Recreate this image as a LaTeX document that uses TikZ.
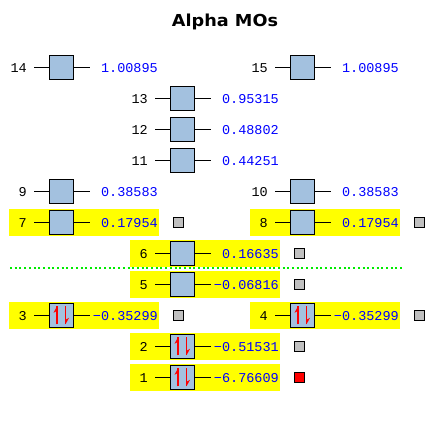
\documentclass[tikz,border=0pt]{standalone}
\usepackage{fontspec}
\setmainfont{Liberation Sans}
\newfontfamily\monofont{Liberation Mono}
\newfontfamily\titlefont{DejaVu Sans}
\definecolor{boxblue}{RGB}{163,193,223}
\definecolor{hlyellow}{RGB}{255,255,0}
\definecolor{dotgreen}{RGB}{0,235,0}
\definecolor{sqgray}{RGB}{192,192,192}
\definecolor{enblue}{RGB}{0,0,255}
\newcommand\MOlevel[5]{% name, x, y, label, energy
  \node[orb] (#1) at (#2,#3) {};
  \draw[lvlline] (#1.west) -- ++(-15,0) coordinate (#1l);
  \draw[lvlline] (#1.east) -- ++(16.5,0) coordinate (#1r);
  \node[idx] (#1n) at (#2-34,#3+4.7) {#4};
  \node[en] (#1e) at (#2+97,#3+4.7) {#5};
}
\newcommand\HLrow[2]{\fill[hlyellow] (#1-52.5,#2-13.3) rectangle (#1+97.5,#2+13.3);}
\newcommand\SpinPair[2]{%
  \draw[spin] (#1-4,#2+9) -- (#1-4,#2-9);
  \fill[red] (#1-4,#2-9) -- (#1-7.5,#2-2.5) -- (#1-4,#2-4.5) -- cycle;
  \draw[spin] (#1+4.5,#2-9) -- (#1+4.5,#2+9);
  \fill[red] (#1+4.5,#2+9) -- (#1+8,#2+2.5) -- (#1+4.5,#2+4.5) -- cycle;
}
\begin{document}
\begin{tikzpicture}[x=1pt,y=-1pt,
  orb/.style={draw=black, line width=1pt, fill=boxblue, minimum size=24pt, inner sep=0pt},
  lvlline/.style={line width=1pt},
  idx/.style={font=\monofont\fontsize{13.5}{14}\selectfont, anchor=base east, inner sep=0pt},
  en/.style={font=\monofont\fontsize{13.5}{14}\selectfont, text=enblue, anchor=base east, inner sep=0pt},
  occsq/.style={draw=black, line width=1pt, fill=sqgray, minimum size=10pt, inner sep=0pt},
  homosq/.style={occsq, fill=red},
  spin/.style={red, line width=1.2pt},
  gapline/.style={dotgreen, line width=2pt, dash pattern=on 2pt off 2.7pt}]
\useasboundingbox (0,0) rectangle (442,431);
\fill[white] (0,0) rectangle (442,431);
% highlighted rows
\HLrow{61}{222.3}
\HLrow{302}{222.3}
\HLrow{182}{253.3}
\HLrow{182}{284.3}
\HLrow{61}{315.3}
\HLrow{302}{315.3}
\HLrow{182}{346.3}
\HLrow{182}{377.3}
% title
\node[font=\titlefont\bfseries\fontsize{16.5}{18}\selectfont, anchor=base, xscale=1.07, inner sep=0pt] (title) at (225,26.7) {Alpha MOs};
% gap line
\coordinate (gapL) at (10,268);
\coordinate (gapR) at (404,268);
\draw[gapline] (gapL) -- (gapR);
% levels
\MOlevel{m14}{61}{67.3}{14}{1.00895}
\MOlevel{m15}{302}{67.3}{15}{1.00895}
\MOlevel{m13}{182}{98.3}{13}{0.95315}
\MOlevel{m12}{182}{129.3}{12}{0.48802}
\MOlevel{m11}{182}{160.3}{11}{0.44251}
\MOlevel{m9}{61}{191.3}{9}{0.38583}
\MOlevel{m10}{302}{191.3}{10}{0.38583}
\MOlevel{m7}{61}{222.3}{7}{0.17954}
\MOlevel{m8}{302}{222.3}{8}{0.17954}
\MOlevel{m6}{182}{253.3}{6}{0.16635}
\MOlevel{m5}{182}{284.3}{5}{−0.06816}
\MOlevel{m3}{61}{315.3}{3}{−0.35299}
\MOlevel{m4}{302}{315.3}{4}{−0.35299}
\MOlevel{m2}{182}{346.3}{2}{−0.51531}
\MOlevel{m1}{182}{377.3}{1}{−6.76609}
% electrons
\SpinPair{61}{315.3}
\SpinPair{302}{315.3}
\SpinPair{182}{346.3}
\SpinPair{182}{377.3}
% small squares
\node[occsq] (s7) at (178,222.3) {};
\node[occsq] (s8) at (419,222.3) {};
\node[occsq] (s6) at (299,253.3) {};
\node[occsq] (s5) at (299,284.3) {};
\node[occsq] (s3) at (178,315.3) {};
\node[occsq] (s4) at (419,315.3) {};
\node[occsq] (s2) at (299,346.3) {};
\node[homosq] (s1) at (299,377.3) {};
\end{tikzpicture}
\end{document}
